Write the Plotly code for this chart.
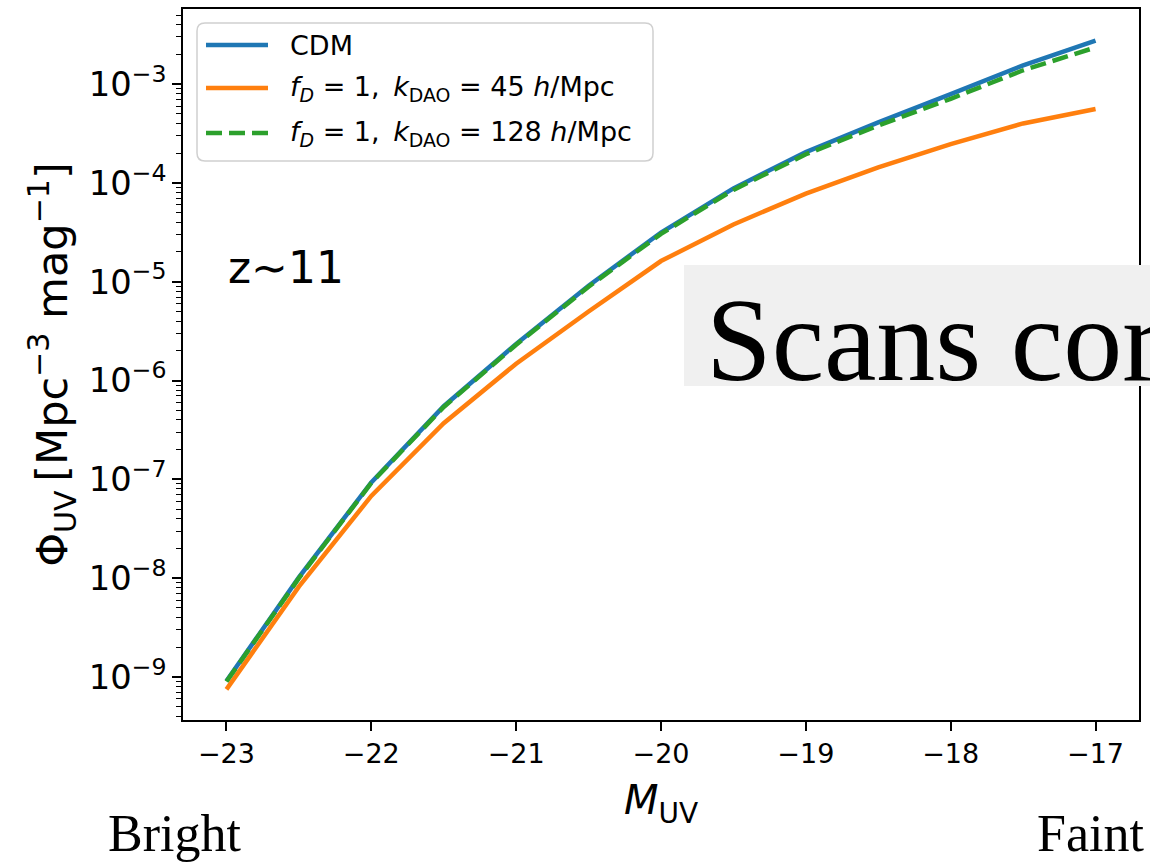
import plotly.graph_objects as go

# UV luminosity function at z~11: CDM vs. dark acoustic oscillation models
m_uv = [-23.0, -22.5, -22.0, -21.5, -21.0, -20.5, -20.0, -19.5, -19.0, -18.5, -18.0, -17.5, -17.0]
phi_cdm = [9.1e-10, 1.02e-8, 9.3e-8, 5.5e-7, 2.35e-6, 9.1e-6, 3.15e-5, 8.8e-5, 2.05e-4, 4.1e-4, 7.9e-4, 1.55e-3, 2.75e-3]
phi_k45 = [7.5e-10, 8.2e-9, 6.8e-8, 3.7e-7, 1.48e-6, 5.0e-6, 1.62e-5, 3.8e-5, 7.8e-5, 1.44e-4, 2.47e-4, 4.0e-4, 5.6e-4]
phi_k128 = [9.0e-10, 1.0e-8, 9.2e-8, 5.4e-7, 2.3e-6, 8.9e-6, 3.05e-5, 8.5e-5, 1.95e-4, 3.8e-4, 7.1e-4, 1.38e-3, 2.35e-3]

x_ticks = [-23, -22, -21, -20, -19, -18, -17]
series_names = [
    "CDM",
    "<i>f</i><sub><i>D</i></sub> = 1,\u2002<i>k</i><sub>DAO</sub> = 45 <i>h</i>/Mpc",
    "<i>f</i><sub><i>D</i></sub> = 1,\u2002<i>k</i><sub>DAO</sub> = 128 <i>h</i>/Mpc",
]
colors = ["#1f77b4", "#ff7f0e", "#2ca02c"]
dashes = ["solid", "solid", "16px,7px"]

FIG_W, FIG_H = 1150, 865
PL, PR, PT, PB = 183, 1139, 9, 720
PW, PH = PR - PL, PB - PT


def px(x):
    return (x - PL) / PW


def py(y):
    return (PB - y) / PH


fig = go.Figure()
for name, ys, c, d in zip(series_names, [phi_cdm, phi_k45, phi_k128], colors, dashes):
    fig.add_trace(go.Scatter(x=m_uv, y=ys, mode="lines", name=name,
                             line=dict(color=c, width=4.5, dash=d)))

axis_common = dict(showline=True, linecolor="black", linewidth=2, mirror=True,
                   ticks="outside", ticklen=9, tickwidth=2, tickcolor="black",
                   showgrid=False, zeroline=False,
                   tickfont=dict(family="DejaVu Sans", size=27, color="black"))

fig.update_xaxes(range=[-23.3, -16.7], tickvals=x_ticks,
                 title=dict(text="<i>M</i><sub>UV</sub>",
                            font=dict(family="DejaVu Sans", size=40, color="black"),
                            standoff=18),
                 **axis_common)
fig.update_yaxes(type="log", range=[-9.435, -2.24], dtick=1, exponentformat="power",
                 minor=dict(ticks="outside", ticklen=5, tickwidth=1.3, tickcolor="black",
                            dtick="D1", showgrid=False),
                 title=dict(text="\u03a6<sub>UV</sub>\u2009[Mpc<sup>\u22123</sup> mag<sup>\u22121</sup>]",
                            font=dict(family="DejaVu Sans", size=43, color="black"),
                            standoff=8),
                 **axis_common)

shapes = []
# legend frame with rounded corners
lx0, ly0, lx1, ly1, r = 197, 23, 653, 161, 8
rx, ry = r / PW, r / PH
X0, X1, Y0, Y1 = px(lx0), px(lx1), py(ly1), py(ly0)
path = (f"M {X0+rx},{Y0} L {X1-rx},{Y0} Q {X1},{Y0} {X1},{Y0+ry} "
        f"L {X1},{Y1-ry} Q {X1},{Y1} {X1-rx},{Y1} L {X0+rx},{Y1} "
        f"Q {X0},{Y1} {X0},{Y1-ry} L {X0},{Y0+ry} Q {X0},{Y0} {X0+rx},{Y0} Z")
shapes.append(dict(type="path", xref="paper", yref="paper", path=path,
                   fillcolor="rgba(255,255,255,0.8)", line=dict(color="#d0d0d0", width=1.5),
                   layer="above"))
row_y = [45, 88, 133]
for c, d, yy in zip(colors, dashes, row_y):
    shapes.append(dict(type="line", xref="paper", yref="paper",
                       x0=px(206), x1=px(268), y0=py(yy), y1=py(yy),
                       line=dict(color=c, width=4.5, dash=d), layer="above"))
# grey banner on the right
shapes.append(dict(type="rect", xref="paper", yref="paper",
                   x0=px(684), x1=px(1170), y0=py(386), y1=py(265),
                   fillcolor="#f0f0f0", line=dict(width=0), layer="above"))

annotations = []
for name, yy in zip(series_names, row_y):
    annotations.append(dict(text=name, xref="paper", yref="paper", x=px(288), y=py(yy),
                            xanchor="left", yanchor="middle", showarrow=False,
                            font=dict(family="DejaVu Sans", size=27, color="black")))
annotations.append(dict(text="z\u223c11", xref="paper", yref="paper", x=px(286), y=py(267),
                        xanchor="center", yanchor="middle", showarrow=False,
                        font=dict(family="DejaVu Sans", size=44, color="black")))
annotations.append(dict(text="Scans cor", xref="paper", yref="paper", x=px(704), y=py(340),
                        xanchor="left", yanchor="middle", showarrow=False,
                        font=dict(family="Liberation Serif", size=118, color="black")))
annotations.append(dict(text="Bright", xref="paper", yref="paper", x=px(174), y=py(864),
                        xanchor="center", yanchor="bottom", showarrow=False,
                        font=dict(family="Liberation Serif", size=52, color="black")))
annotations.append(dict(text="Faint", xref="paper", yref="paper", x=px(1146), y=py(864),
                        xanchor="right", yanchor="bottom", showarrow=False,
                        font=dict(family="Liberation Serif", size=52, color="black")))

fig.update_layout(width=FIG_W, height=FIG_H,
                  margin=dict(l=PL, r=FIG_W - PR, t=PT, b=FIG_H - PB, autoexpand=False),
                  paper_bgcolor="white", plot_bgcolor="white",
                  showlegend=False, shapes=shapes, annotations=annotations,
                  font=dict(family="DejaVu Sans", color="black"))

fig.write_html("out.html")
